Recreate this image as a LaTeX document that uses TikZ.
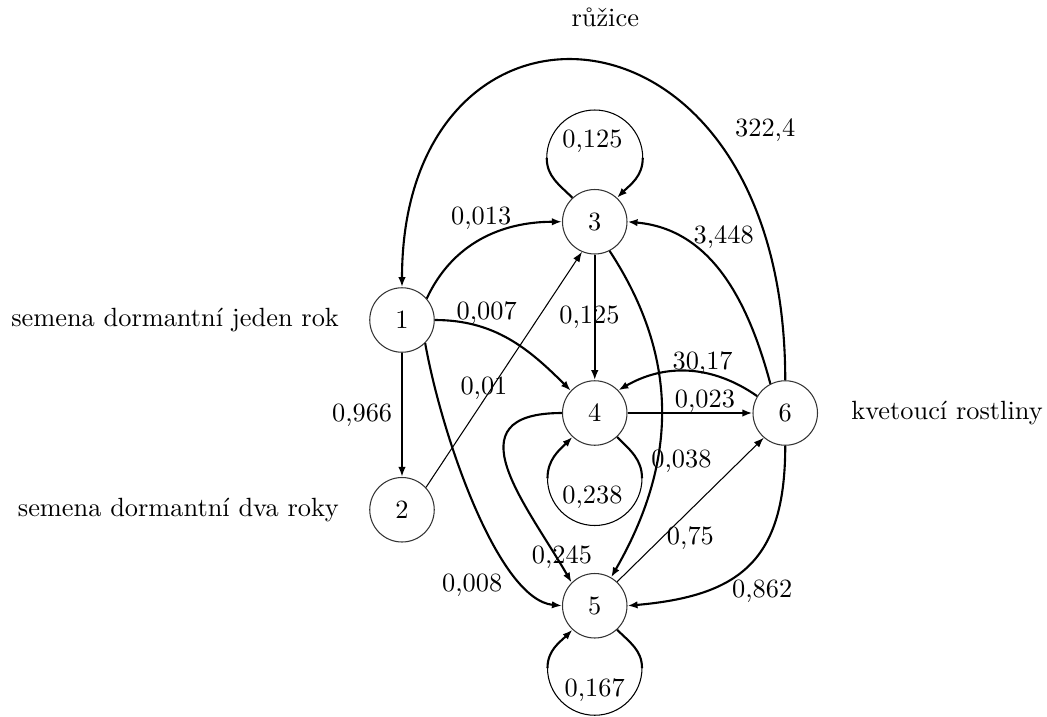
\documentclass[tikz,border=0pt]{standalone}
\usetikzlibrary{positioning,calc,arrows.meta}
\tikzset{
state/.style={circle,draw=black!80,line width=0.4pt,minimum size=8.6mm,inner sep=0pt},
edge/.style={-{Latex[length=3.8pt,width=2.8pt]},line width=0.8pt},
thinedge/.style={-{Latex[length=3.8pt,width=2.8pt]},line width=0.4pt},
legline/.style={line width=0.8pt},
arcline/.style={line width=0.4pt}
}
\begin{document}
\begin{tikzpicture}
\useasboundingbox (0,0) rectangle (13.96,9.547);
\node[state] (n1) at (5.36,5.28) {1};
\node[state] (n2) at (5.36,2.75) {2};
\node[state] (n3) at (7.93,6.59) {3};
\node[state] (n4) at (7.93,4.04) {4};
\node[state] (n5) at (7.93,1.47) {5};
\node[state] (n6) at (10.47,4.04) {6};
\node[left=0.28cm of n1] (t1) {semena dormantní jeden rok};
\node[left=0.28cm of n2] (t2) {semena dormantní dva roky};
\node[right=0.32cm of n6] (t6) {kvetoucí rostliny};
\node (t3) at (8.07,9.31) {růžice};

\draw[edge] (n1) -- node[left] (w12) {0,966} (n2);
\draw[edge] (n1.41) to[out=65,in=180] node[above] (w13) {0,013} (n3.west);
\draw[edge] (n1.east) to[out=0,in=135] node[pos=0.33,above=-2pt] (w14) {0,007} (n4.137);
\draw[edge] (n1.-45) .. controls +(0.23,-1.28) and +(-0.84,0.08) .. node[pos=0.8,left=5pt] (w15) {0,008} (n5.west);
\draw[thinedge] (n2.43) -- node[pos=0.42,xshift=-0.1cm] (w23) {0,01} (n3.-113);
\draw[edge] (n3) -- node[xshift=-0.07cm] (w34) {0,125} (n4);
\draw[edge] (n3.-63) .. controls +(0.95,-1.45) and +(0.87,1.51) .. node[pos=0.65,xshift=0.33cm] (w35) {0,038} (n5.60);
\draw[edge] (n4) -- node[pos=0.62,above=-3.5pt] (w46) {0,023} (n6);
\draw[edge] (n4.west) .. controls +(-1.5,0) and +(-0.6,1.04) .. node[pos=0.85,xshift=0.16cm,yshift=-0.13cm] (w45) {0,245} (n5.135);
\draw[thinedge] (n5.47) -- node[pos=0.5,below=3pt] (w56) {0,75} (n6.-131);
\draw[edge] (n6.149) to[out=145,in=30] node[pos=0.4,above=-4.5pt] (w64) {30,17} (n4.44);
\draw[edge] (n6.117) to[out=105,in=-5] node[pos=0.6,above,xshift=0.21cm] (w63) {3,448} (n3.east);
\draw[edge] (n6.north) .. controls +(0,5.33) and +(0,4.33) .. node[pos=0.25,above right] (w61) {322,4} (n1.north);
\draw[edge] (n6.south) to[out=-90,in=5,looseness=1.3] node[pos=0.65,right,yshift=-0.1cm] (w65) {0,862} (n5.east);

% loops
\coordinate (a3) at ($(n3)+(-0.64,0.85)$);
\coordinate (b3) at ($(n3)+(0.64,0.85)$);
\draw[legline] (n3.133) to[out=135,in=-90] (a3);
\draw[arcline] (a3) arc[start angle=180,end angle=0,radius=0.64];
\draw[edge] (b3) to[out=-90,in=45] (n3.47);
\node (w33) at ($(n3)+(-0.03,1.07)$) {0,125};

\coordinate (a4) at ($(n4)+(0.63,-0.87)$);
\coordinate (b4) at ($(n4)+(-0.63,-0.87)$);
\draw[legline] (n4.-47) to[out=-45,in=90] (a4);
\draw[arcline] (a4) arc[start angle=0,end angle=-180,radius=0.63];
\draw[edge] (b4) to[out=90,in=-135] (n4.-133);
\node (w44) at ($(n4)+(-0.03,-1.12)$) {0,238};

\coordinate (a5) at ($(n5)+(0.63,-0.83)$);
\coordinate (b5) at ($(n5)+(-0.63,-0.83)$);
\draw[legline] (n5.-47) to[out=-45,in=90] (a5);
\draw[arcline] (a5) arc[start angle=0,end angle=-180,radius=0.63];
\draw[edge] (b5) to[out=90,in=-135] (n5.-133);
\node (w55) at ($(n5)+(0,-1.12)$) {0,167};
\end{tikzpicture}
\end{document}
